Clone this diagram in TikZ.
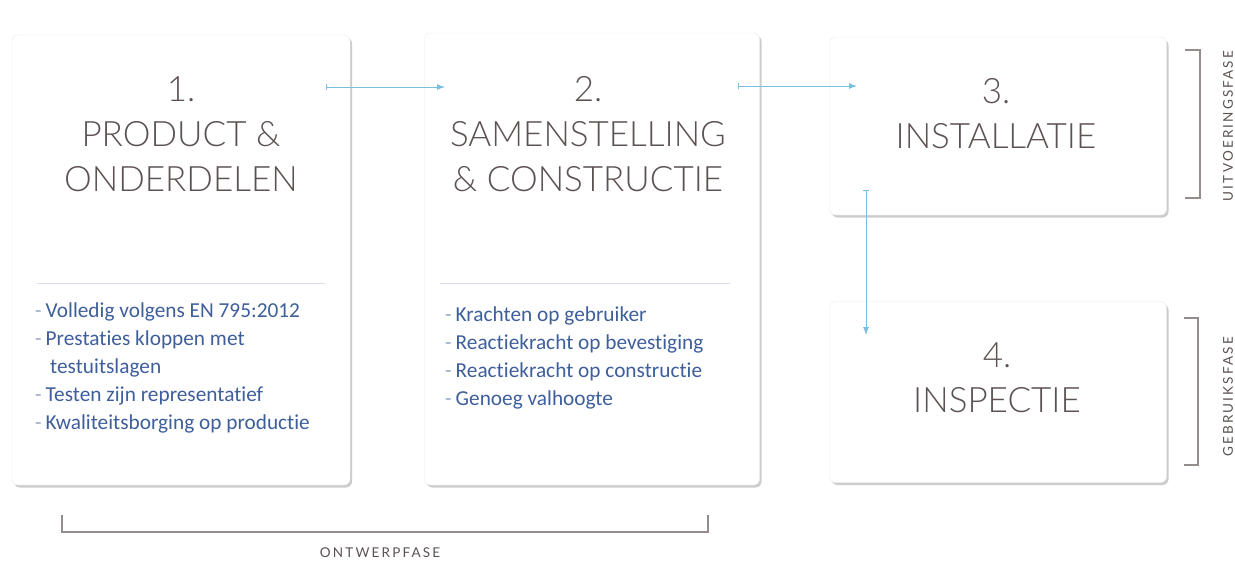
\documentclass[tikz,border=0pt]{standalone}
\usepackage{fontspec}
\setmainfont{Carlito}[Ligatures=NoCommon]
\newfontfamily\headfont{Lato Light}
\newfontfamily\phasefont[LetterSpace=16]{Lato}
\usetikzlibrary{arrows.meta,shadows}

\definecolor{headgray}{RGB}{92,82,82}
\definecolor{listblue}{RGB}{62,95,155}
\definecolor{flowblue}{RGB}{120,190,222}
\definecolor{rulegray}{RGB}{215,220,230}
\definecolor{bracketgray}{RGB}{150,140,140}

\newcommand{\dashitem}{\textcolor{listblue!55}{-}\hspace{4pt}}

\tikzset{
  card/.style={draw=black!8, fill=white, rounded corners=6pt, inner sep=0pt,
    drop shadow={shadow xshift=2pt, shadow yshift=-2.5pt, opacity=0.4}},
  steptitle/.style={font=\headfont\fontsize{35}{45}\selectfont, text=headgray, align=center, inner sep=0pt},
  steplist/.style={font=\fontsize{21.3}{28}\selectfont, text=listblue, align=left, anchor=north west, inner sep=0pt},
  flow/.style={draw=flowblue, line width=1pt, {Bar[width=6pt,line width=1pt]}-{Latex[length=8pt,width=6pt]}},
  sepline/.style={draw=rulegray, line width=0.8pt},
  bracket/.style={draw=bracketgray, line width=1.5pt},
  phase/.style={font=\phasefont\fontsize{13.5}{15}\selectfont, text=headgray, inner sep=0pt}
}

\begin{document}
\begin{tikzpicture}[x=1pt,y=1pt,yscale=-1]
    % page
    \fill[white] (0,0) rectangle (1235,563);
    \useasboundingbox (0,0) rectangle (1235,563);

    % cards
    \node[card, minimum width=338pt, minimum height=450pt] (b1) at (181,260) {};
    \node[card, minimum width=335pt, minimum height=452pt] (b2) at (592,259) {};
    \node[card, minimum width=337pt, minimum height=178pt] (b3) at (998,126) {};
    \node[card, minimum width=337pt, minimum height=181pt] (b4) at (998,392) {};

    % titles
    \node[steptitle] (t1) at (181,134) {1.\\PRODUCT \&\\ONDERDELEN};
    \node[steptitle] (t2) at (588,134) {2.\\SAMENSTELLING\\\& CONSTRUCTIE};
    \node[steptitle] (t3) at (996,114) {3.\\INSTALLATIE};
    \node[steptitle] (t4) at (997,378) {4.\\INSPECTIE};

    % dividers
    \draw[sepline] (37,283) -- (325,283);
    \draw[sepline] (440,283) -- (730,283);

    % requirement lists
    \node[steplist] (l1) at (35,303) {\dashitem Volledig volgens EN 795:2012\\
      \dashitem Prestaties kloppen met\\
      \hspace*{15pt}testuitslagen\\
      \dashitem Testen zijn representatief\\
      \dashitem Kwaliteitsborging op productie};
    \node[steplist] (l2) at (445,307) {\dashitem Krachten op gebruiker\\
      \dashitem Reactiekracht op bevestiging\\
      \dashitem Reactiekracht op constructie\\
      \dashitem Genoeg valhoogte};

    % flow between the steps
    \coordinate (f12s) at (326,87);
    \coordinate (f12e) at (445,87);
    \coordinate (f23s) at (738,86);
    \coordinate (f23e) at (857,86);
    \coordinate (f34s) at (866,190);
    \coordinate (f34e) at (866,335);
    \draw[flow] (f12s) -- (f12e);
    \draw[flow] (f23s) -- (f23e);
    \draw[flow] (f34s) -- (f34e);

    % phase brackets
    \draw[bracket] (62,515) -- (62,532) -- (708,532) -- (708,515);
    \draw[bracket] (1185,50) -- (1200,50) -- (1200,198) -- (1185,198);
    \draw[bracket] (1184,318) -- (1198,318) -- (1198,465) -- (1184,465);

    \node[phase] (ontwerp) at (380,553) {ONTWERPFASE};
    \node[phase, rotate=90] (uitvoering) at (1228,126) {UITVOERINGSFASE};
    \node[phase, rotate=90] (gebruik) at (1228,397) {GEBRUIKSFASE};
\end{tikzpicture}
\end{document}
